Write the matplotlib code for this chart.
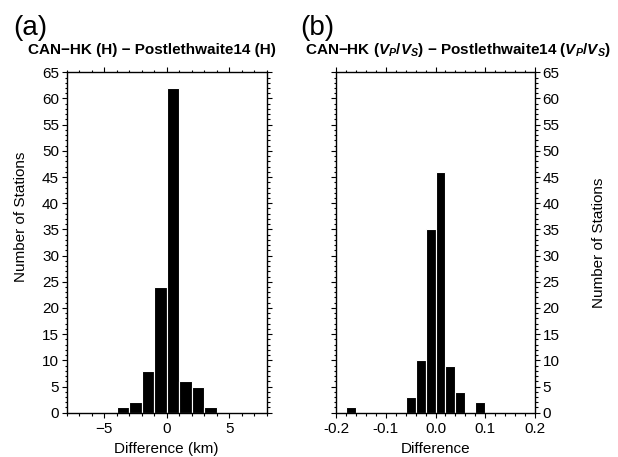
import matplotlib
matplotlib.use("Agg")
import matplotlib.pyplot as plt
from matplotlib.ticker import MultipleLocator, FormatStrFormatter

plt.rcParams['font.family'] = ['Liberation Sans', 'DejaVu Sans']
plt.rcParams['mathtext.fontset'] = 'custom'
plt.rcParams['mathtext.it'] = 'Liberation Sans:bold:italic'
plt.rcParams['mathtext.rm'] = 'Liberation Sans:bold'
plt.rcParams['mathtext.bf'] = 'Liberation Sans:bold'
plt.rcParams['axes.unicode_minus'] = True

# Panel (a): thickness difference (km), bin width 1 km
h_bin_left = [-4, -3, -2, -1, 0, 1, 2, 3]
h_counts = [1, 2, 8, 24, 62, 6, 5, 1]
h_width = 1.0

# Panel (b): Vp/Vs difference, bin width 0.02
k_bin_left = [-0.18, -0.06, -0.04, -0.02, 0.0, 0.02, 0.04, 0.08]
k_counts = [1, 3, 10, 35, 46, 9, 4, 2]
k_width = 0.02

W, H = 618, 457
fig = plt.figure(figsize=(W / 100, H / 100), dpi=100)

def frac(x0, x1, y0, y1):
    return [x0 / W, 1 - y1 / H, (x1 - x0) / W, (y1 - y0) / H]

AX_TOP, AX_BOT = 72.3, 412.7
ax1 = fig.add_axes(frac(66.7, 266.7, AX_TOP, AX_BOT))
ax2 = fig.add_axes(frac(336, 535, AX_TOP, AX_BOT))

ax1.bar([l + h_width / 2 for l in h_bin_left], h_counts, width=h_width,
        color='black', edgecolor='white', linewidth=0.8)
ax2.bar([l + k_width / 2 for l in k_bin_left], k_counts, width=k_width,
        color='black', edgecolor='white', linewidth=0.8)

ax1.set_xlim(-8, 8)
ax2.set_xlim(-0.2, 0.2)
for ax in (ax1, ax2):
    ax.set_ylim(0, 65)
    ax.yaxis.set_major_locator(MultipleLocator(5))
    ax.yaxis.set_minor_locator(MultipleLocator(1))
    for s in ax.spines.values():
        s.set_linewidth(1.0)
    ax.tick_params(which='both', direction='out', top=True, right=True,
                   left=True, bottom=True, width=0.8, labelsize=11, pad=2)
    ax.tick_params(which='major', length=3.5)
    ax.tick_params(which='minor', length=1.8)
    ax.tick_params(axis='x', pad=3)

ax1.xaxis.set_major_locator(MultipleLocator(5))
ax1.xaxis.set_minor_locator(MultipleLocator(1))
ax2.xaxis.set_major_locator(MultipleLocator(0.1))
ax2.xaxis.set_minor_locator(MultipleLocator(0.02))
ax2.xaxis.set_major_formatter(FormatStrFormatter('%.1f'))

ax1.tick_params(axis='y', labelleft=True, labelright=False)
ax2.tick_params(axis='y', labelleft=False, labelright=True)

ax1.set_xlabel('Difference (km)', fontsize=11)
ax2.set_xlabel('Difference', fontsize=11)
ax1.set_ylabel('Number of Stations', fontsize=11)
ax2.set_ylabel('Number of Stations', fontsize=11)
ax2.yaxis.set_label_position('right')

def ax_coords(ax, x_px, y_px, x0, x1):
    return ((x_px - x0) / (x1 - x0), (AX_BOT - y_px) / (AX_BOT - AX_TOP))

ax1.xaxis.set_label_coords(*ax_coords(ax1, 166.7, 453, 66.7, 266.7))
ax2.xaxis.set_label_coords(*ax_coords(ax2, 435.5, 453, 336, 535))
ax1.xaxis.label.set_va('baseline')
ax2.xaxis.label.set_va('baseline')
ax1.yaxis.set_label_coords(*ax_coords(ax1, 21, 217, 66.7, 266.7))
ax2.yaxis.set_label_coords(*ax_coords(ax2, 599, 243, 336, 535))
ax1.yaxis.label.set_va('center')
ax2.yaxis.label.set_va('center')

fig.text(13 / W, 1 - 35 / H, '(a)', fontsize=20, ha='left', va='baseline')
fig.text(300 / W, 1 - 35 / H, '(b)', fontsize=20, ha='left', va='baseline')
fig.text(151.5 / W, 1 - 54 / H, 'CAN\u2212HK (H) \u2212 Postlethwaite14 (H)',
         fontsize=11, fontweight='bold', ha='center', va='baseline')
fig.text(457.5 / W, 1 - 54 / H,
         'CAN\u2212HK ($V_P/V_S$) \u2212 Postlethwaite14 ($V_P/V_S$)',
         fontsize=11, fontweight='bold', ha='center', va='baseline')

fig.savefig('out.png', dpi=100)
